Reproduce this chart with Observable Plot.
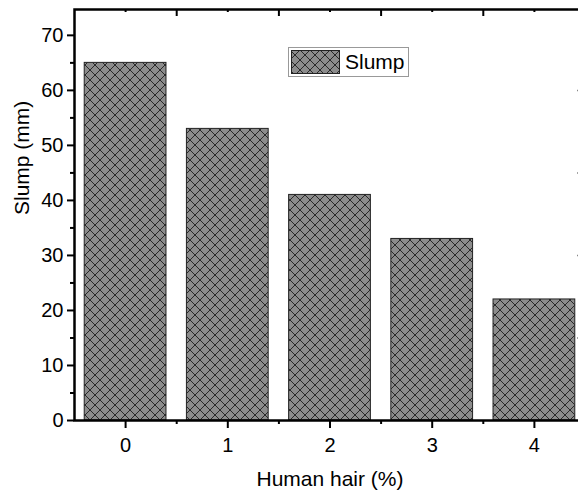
<!DOCTYPE html>
<html>
<head>
<meta charset="utf-8">
<script src="https://cdn.jsdelivr.net/npm/d3@7"></script>
<script src="https://cdn.jsdelivr.net/npm/@observablehq/plot@0.6"></script>
<style>
  html, body { margin: 0; padding: 0; background: #fff; overflow: hidden; width: 578px; height: 492px; }
  #chart { width: 578px; height: 492px; overflow: hidden; position: relative; }
  #chart svg { max-width: none !important; width: 600px !important; height: 492px !important; font-family: "Liberation Sans", Arial, sans-serif; }
  #chart g[aria-label="x-axis tick label"], #chart g[aria-label="y-axis tick label"] { font-size: 20px !important; }
  #chart g[aria-label="x-axis tick label"] text, #chart g[aria-label="y-axis tick label"] text { font-size: 20px !important; fill: #000; }
</style>
</head>
<body>
<div id="chart"></div>
<script>
const categories = [0, 1, 2, 3, 4];
const slump = [65, 53, 41, 33, 22];
const yTicks = [0, 10, 20, 30, 40, 50, 60, 70];
const yMinor = [5, 15, 25, 35, 45, 55, 65];
const xMinor = [0.5, 1.5, 2.5, 3.5];
const rightMarks = [15, 30, 45, 60];
const seriesName = "Slump";

const data = categories.map((c, i) => ({x: c, v: slump[i]}));
const yMax = 74.7;
const xMin = -0.5, xMax = 4.5;
const pxX = 1 / 102.2;  // data units per pixel on x
const pxY = 1 / 5.5;    // data units per pixel on y

const plot = Plot.plot({
  width: 600,
  height: 492,
  marginLeft: 74,
  marginRight: 15,
  marginTop: 9,
  marginBottom: 72,
  style: {fontFamily: "Liberation Sans, Arial, sans-serif", fontSize: "20px", color: "#000", background: "#fff"},
  x: {domain: [xMin, xMax]},
  y: {domain: [0, yMax]},
  marks: [
    Plot.rectY(data, {x1: d => d.x - 0.4, x2: d => d.x + 0.4, y: "v", fill: "url(#xhatch)", stroke: "#222", strokeWidth: 1}),
    // tick labels only
    Plot.axisX({ticks: categories, tickSize: 0, tickPadding: 17, tickFormat: d => String(d), label: null}),
    Plot.axisY({ticks: yTicks, tickSize: 0, tickPadding: 11, label: null}),
    // bottom ticks (outward)
    Plot.ruleX(categories, {y1: 0, y2: -8 * pxY, stroke: "#000", strokeWidth: 2}),
    Plot.ruleX(xMinor, {y1: 0, y2: -4 * pxY, stroke: "#000", strokeWidth: 2}),
    // left ticks (outward)
    Plot.ruleY(yTicks, {x1: xMin, x2: xMin - 7 * pxX, stroke: "#000", strokeWidth: 2}),
    Plot.ruleY(yMinor, {x1: xMin, x2: xMin - 4 * pxX, stroke: "#000", strokeWidth: 2}),
    // top inward ticks
    Plot.ruleX(xMinor, {y1: yMax, y2: yMax - 7 * pxY, stroke: "#000", strokeWidth: 2}),
    Plot.ruleX(categories, {y1: yMax, y2: yMax - 3 * pxY, stroke: "#000", strokeWidth: 2}),
    // right faint ticks
    Plot.ruleY(rightMarks, {x1: xMax - 8 * pxX, x2: xMax, stroke: "#888", strokeWidth: 1.5}),
    // frame
    Plot.frame({stroke: "#000", strokeWidth: 2.5}),
    // titles
    Plot.text(["Human hair (%)"], {frameAnchor: "bottom", dy: 65, fontSize: 21, fill: "#000"}),
    Plot.text(["Slump (mm)"], {frameAnchor: "left", dx: -52, rotate: -90, fontSize: 21, fill: "#000"})
  ]
});

const svg = d3.select(plot);
const defs = svg.insert("defs", ":first-child");
const pat = defs.append("pattern")
  .attr("id", "xhatch").attr("patternUnits", "userSpaceOnUse")
  .attr("width", 10).attr("height", 10);
pat.append("rect").attr("width", 10).attr("height", 10).attr("fill", "#8c8c8c");
pat.append("path").attr("d", "M0,0L10,10M10,0L0,10M-1,9L1,11M9,-1L11,1").attr("stroke", "#1e1e1e").attr("stroke-width", 0.9).attr("fill", "none");

// legend
const lg = svg.append("g").attr("text-anchor", "start");
lg.append("rect").attr("x", 288.5).attr("y", 47.5).attr("width", 120).attr("height", 29)
  .attr("fill", "#fff").attr("stroke", "#999").attr("stroke-width", 1);
lg.append("rect").attr("x", 291.5).attr("y", 50.5).attr("width", 48).attr("height", 23)
  .attr("fill", "url(#xhatch)").attr("stroke", "#222").attr("stroke-width", 1);
lg.append("text").attr("x", 345).attr("y", 69).attr("font-size", 21).attr("text-anchor", "start").attr("fill", "#000").text(seriesName);

document.getElementById("chart").appendChild(plot);
</script>
</body>
</html>
